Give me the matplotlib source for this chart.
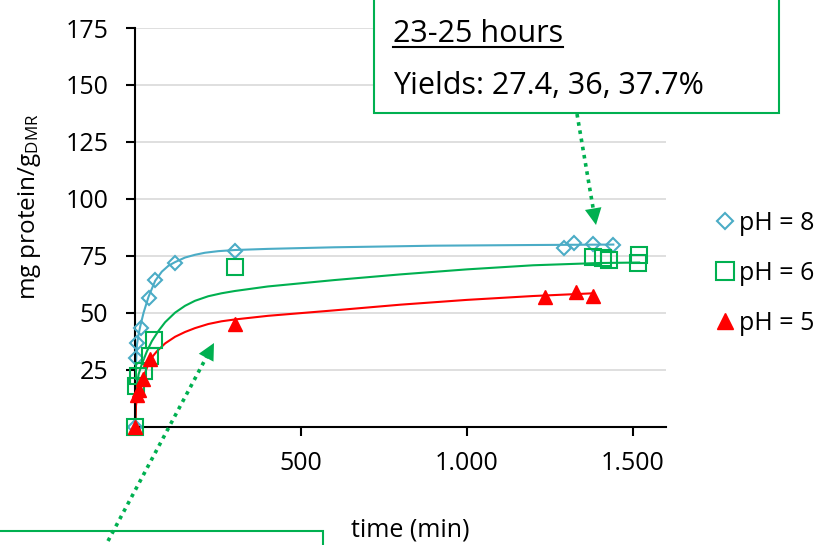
import matplotlib
matplotlib.use("Agg")
import matplotlib.pyplot as plt
from matplotlib.lines import Line2D
from matplotlib.patches import Rectangle
from matplotlib.ticker import FuncFormatter

plt.rcParams["font.family"] = "Open Sans"
plt.rcParams["mathtext.default"] = "regular"

BLUE, GREEN, RED = "#4BACC6", "#00B050", "#FF0000"

# measured points (time in min, mg protein per g DMR)
t_ph8 = [0, 2, 5, 17, 40, 60, 120, 300, 1293, 1322, 1382, 1442]
y_ph8 = [0, 30, 36.6, 43.3, 56.3, 64.4, 72, 77.2, 78.2, 80.7, 80.1, 79.7]
t_ph6 = [0, 3, 9, 25, 45, 55, 300, 1380, 1410, 1430, 1515, 1520]
y_ph6 = [0, 18, 22, 24.5, 31, 38, 70, 74.3, 73.8, 73.2, 71.7, 75.2]
t_ph5 = [0, 4, 10, 24, 44, 300, 1236, 1329, 1382]
y_ph5 = [0, 14, 16, 21, 29.7, 45.2, 57, 59.2, 57.4]

# fitted trend curves
tf_ph8 = [0, 1, 2, 5, 10, 15, 25, 40, 60, 80, 100, 120, 150, 180, 210, 250, 300,
          400, 600, 900, 1200, 1442]
yf_ph8 = [0, 18, 28, 36, 40.5, 44, 50, 57, 64, 68, 70.6, 72.2, 74.2, 75.4, 76.3, 77, 77.5,
          78, 78.7, 79.4, 79.7, 79.9]
tf_ph6 = [0, 2, 5, 10, 20, 35, 50, 70, 90, 120, 150, 180, 220, 260, 300, 400, 600,
          800, 1000, 1200, 1400, 1520]
yf_ph6 = [0, 12, 18, 23, 27.5, 33, 37.5, 42, 45.8, 50, 53, 55.2, 57.2, 58.5, 59.5, 61.5, 64.3,
          66.8, 69, 70.8, 71.8, 72]
tf_ph5 = [0, 2, 5, 12, 25, 45, 65, 90, 120, 150, 180, 220, 260, 300, 400, 600,
          800, 1000, 1200, 1382]
yf_ph5 = [0, 9, 13, 17, 22, 29.5, 33, 36.5, 39.4, 41.5, 43.2, 45, 46.2, 47, 48.6, 51,
          53.5, 55.6, 57.3, 58.5]

labels = ["pH = 8", "pH = 6", "pH = 5"]

W, H = 817, 545
fig = plt.figure(figsize=(W / 100, H / 100), dpi=100)
ax = fig.add_axes([135.3 / W, 1 - 426.5 / H, 530.4 / W, 398.5 / H])

ax.set_xlim(0, 1600)
ax.set_ylim(0, 175)
ax.set_xticks([500, 1000, 1500])
ax.set_yticks([25, 50, 75, 100, 125, 150, 175])
ax.xaxis.set_major_formatter(FuncFormatter(lambda v, p: f"{int(v):,}".replace(",", ".")))
ax.grid(axis="y", color="#D9D9D9", lw=1.2, zorder=0)
ax.set_axisbelow(True)
for s in ("top", "right"):
    ax.spines[s].set_visible(False)
for s in ("left", "bottom"):
    ax.spines[s].set_linewidth(1.5)
ax.tick_params(axis="x", direction="out", length=6.5, width=1.5, labelsize=18, pad=11)
ax.tick_params(axis="y", direction="out", length=6.5, width=1.5, labelsize=18, pad=13)

ax.plot(tf_ph8, yf_ph8, color=BLUE, lw=1.5, zorder=2)
ax.plot(tf_ph6, yf_ph6, color=GREEN, lw=1.5, zorder=2)
ax.plot(tf_ph5, yf_ph5, color=RED, lw=1.5, zorder=2)
ax.plot(t_ph8, y_ph8, ls="none", marker="D", ms=7.5, mfc="none", mec=BLUE, mew=1.5, zorder=3, clip_on=False)
ax.plot(t_ph6, y_ph6, ls="none", marker="s", ms=11, mfc="none", mec=GREEN, mew=1.5, zorder=3, clip_on=False)
ax.plot(t_ph5, y_ph5, ls="none", marker="^", ms=10.5, color=RED, zorder=4, clip_on=False)

handles = [Line2D([], [], ls="none", marker="D", ms=8, mfc="none", mec=BLUE, mew=1.5),
           Line2D([], [], ls="none", marker="s", ms=12.5, mfc="none", mec=GREEN, mew=1.5),
           Line2D([], [], ls="none", marker="^", ms=12, color=RED)]
fig.legend(handles, labels, loc="center left", bbox_to_anchor=(714 / W, 1 - 273 / H),
           frameon=False, fontsize=18, handlelength=0.85, handletextpad=0.15,
           labelspacing=1.0, borderaxespad=0, borderpad=0)

fig.text(30 / W, 1 - 207 / H, r"mg protein/g$_{DMR}$", rotation=90, fontsize=17.5,
         ha="center", va="center")
fig.text(410 / W, 1 - 530 / H, "time (min)", fontsize=18, ha="center", va="center")

# callout boxes
fig.add_artist(Rectangle((374 / W, 1 - 113 / H), 405 / W, 115 / H, transform=fig.transFigure,
                         fc="white", ec=GREEN, lw=1.5, zorder=5))
fig.add_artist(Rectangle((-2 / W, -10 / H), 325 / W, 14 / H + 10 / H, transform=fig.transFigure,
                         fc="white", ec=GREEN, lw=1.5, zorder=5))
head = fig.text(393 / W, 1 - 41.5 / H, "23-25 hours", fontsize=22, va="baseline", zorder=6)
fig.text(393 / W, 1 - 94 / H, "Yields: 27.4, 36, 37.7%", fontsize=22, va="baseline", zorder=6)

fig.canvas.draw()
bb = head.get_window_extent()
fig.add_artist(Line2D([bb.x0 / W, bb.x1 / W], [1 - 47 / H, 1 - 47 / H],
                      transform=fig.transFigure, color="black", lw=1.5, zorder=6))


def dotted_arrow(x0, y0, x1, y1):
    # dotted shaft plus a solid head, both in figure pixels (origin top-left)
    fx = lambda v: v / W
    fy = lambda v: 1 - v / H
    dx, dy = x1 - x0, y1 - y0
    L = (dx ** 2 + dy ** 2) ** 0.5
    bx, by = x1 - dx / L * 12, y1 - dy / L * 12
    fig.add_artist(Line2D([fx(x0), fx(bx)], [fy(y0), fy(by)], transform=fig.transFigure,
                          color=GREEN, lw=2.6, ls=(0, (1, 1.3)), zorder=6))
    ax.annotate("", xy=(fx(x1), fy(y1)), xycoords="figure fraction",
                xytext=(fx(bx + dx / L * 2), fy(by + dy / L * 2)), textcoords="figure fraction",
                arrowprops=dict(arrowstyle="-|>,head_length=0.6,head_width=0.3",
                                mutation_scale=20, color=GREEN, lw=0, shrinkA=0, shrinkB=0),
                zorder=6, annotation_clip=False)


dotted_arrow(577, 114, 596, 225)
dotted_arrow(108, 541, 214, 343)

fig.savefig("out.png", dpi=100)
